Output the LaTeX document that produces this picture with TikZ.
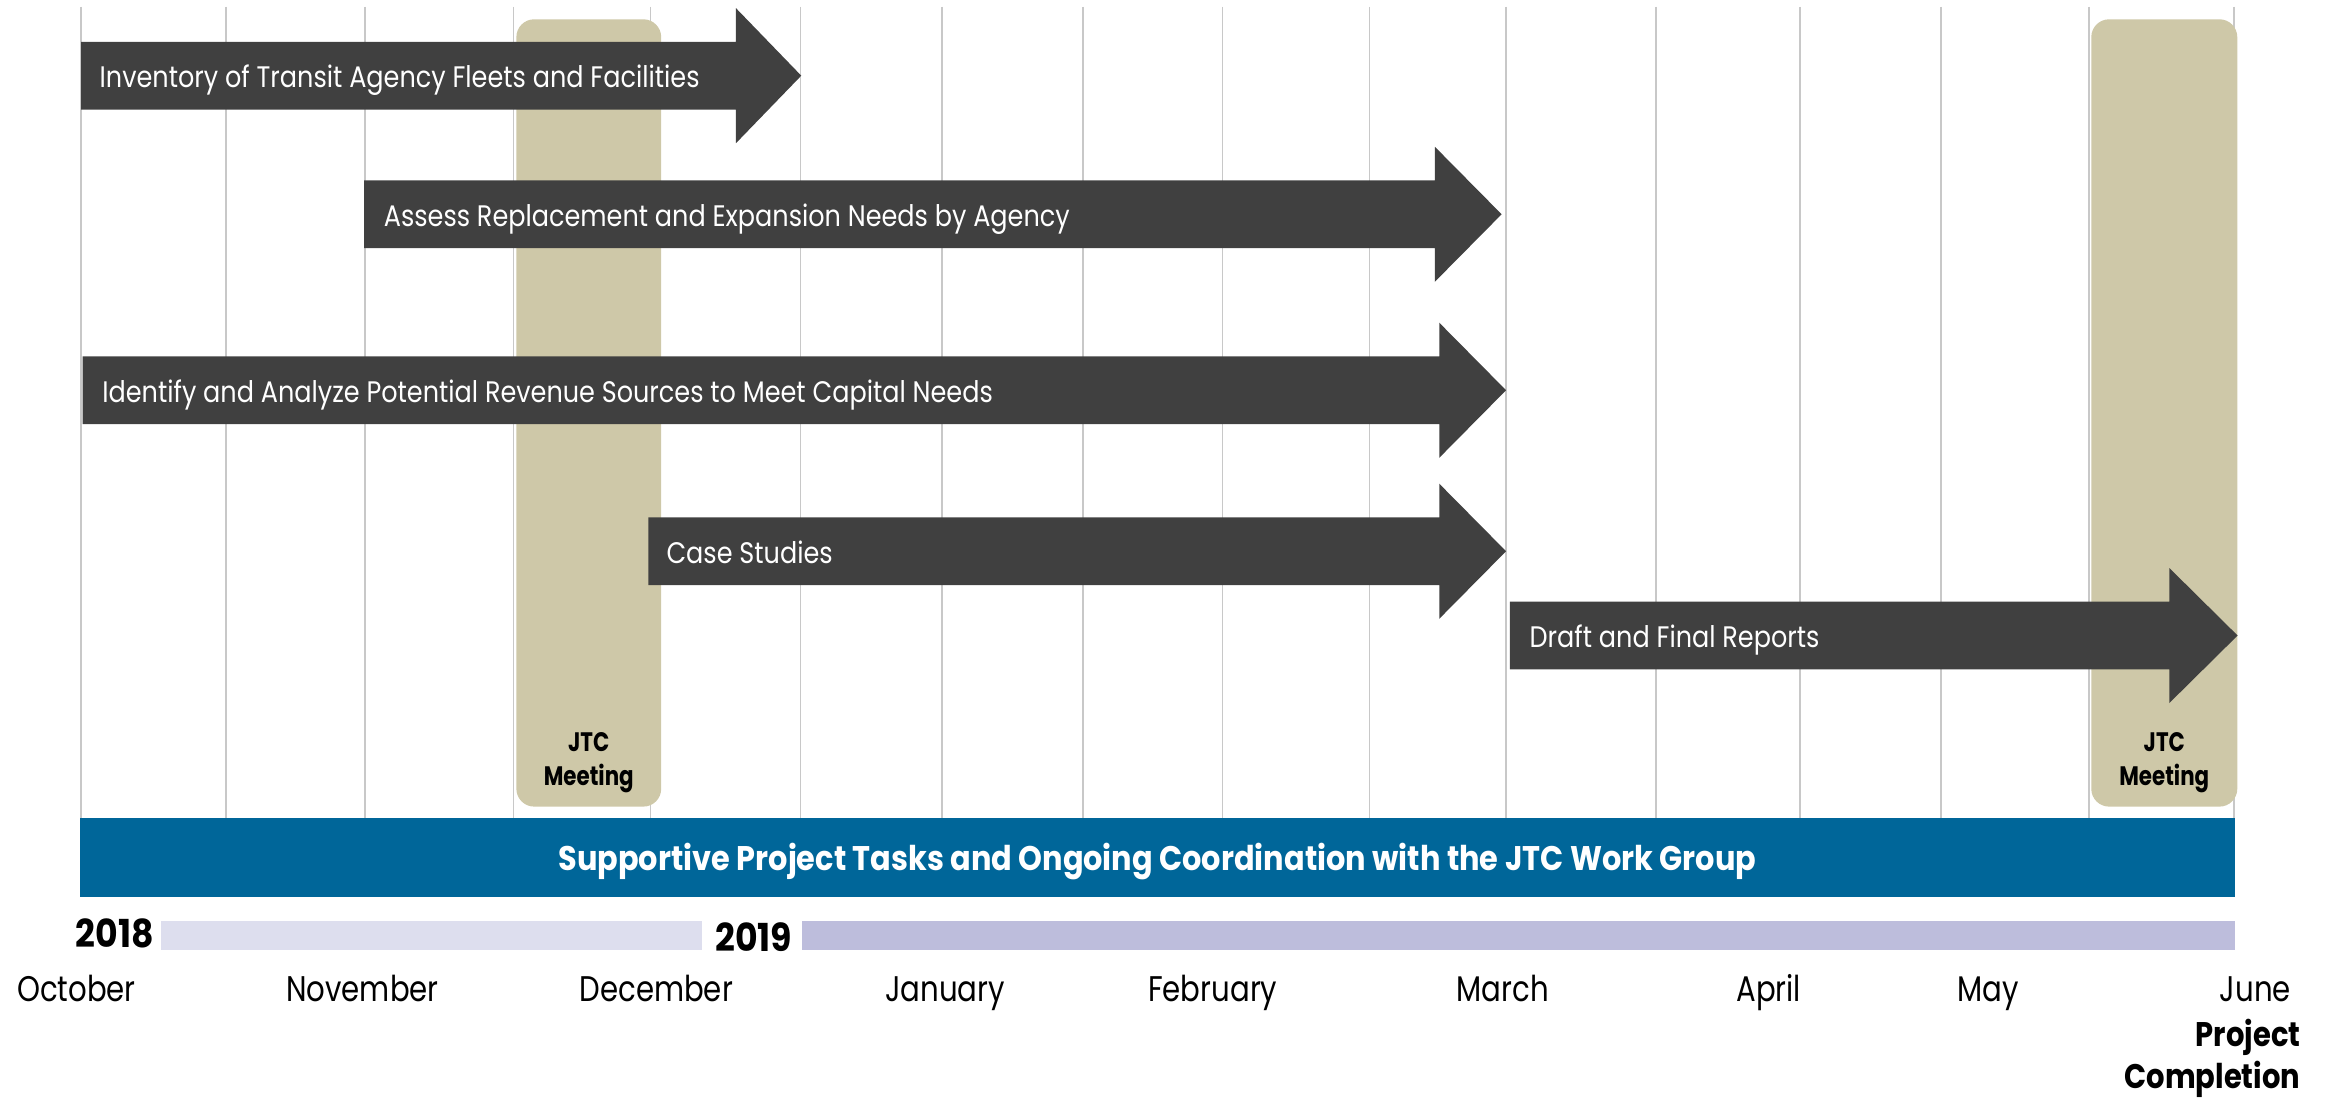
\documentclass[tikz,border=0pt]{standalone}
\usepackage{fontspec}
\newfontfamily\gfont[FakeStretch=0.8]{Poppins}
\newfontfamily\taskfnt[FakeStretch=0.86]{Poppins}
\newfontfamily\barfnt[FakeStretch=0.89]{Poppins}
\newfontfamily\monfnt[FakeStretch=0.82]{Poppins}
\newfontfamily\yrfnt[FakeStretch=0.9]{Poppins}
\newfontfamily\endfnt[FakeStretch=0.85]{Poppins}
\definecolor{grid}{HTML}{C8C8C8}
\definecolor{jtc}{HTML}{CEC8A8}
\definecolor{dark}{HTML}{404040}
\definecolor{coord}{HTML}{006699}
\definecolor{yrA}{HTML}{DDDEEE}
\definecolor{yrB}{HTML}{BDBDDC}
\newcommand\ganttarrow[4]{% left x, head base x, centre y, tip x
  \fill[dark] (#1,#3-22.8) -- (#2,#3-22.8) -- (#2,#3-45.5) -- (#4,#3)
    -- (#2,#3+45.5) -- (#2,#3+22.8) -- (#1,#3+22.8) -- cycle;}
\begin{document}
\begin{tikzpicture}[x=1pt,y=-1pt,
  gridline/.style={draw=grid, line width=1pt},
  jtcbox/.style={fill=jtc, rounded corners=12pt},
  tasktext/.style={text=white, anchor=base west, inner sep=0pt, font=\taskfnt\fontsize{20}{22}\selectfont},
  jtctext/.style={text=black, anchor=base, inner sep=0pt, font=\gfont\bfseries\fontsize{18}{20}\selectfont},
  month/.style={text=black, anchor=base, inner sep=0pt, font=\monfnt\fontsize{24}{26}\selectfont},
  year/.style={text=black, anchor=base, inner sep=0pt, font=\yrfnt\bfseries\fontsize{26}{28}\selectfont},
  bartext/.style={text=white, anchor=base, inner sep=0pt, font=\barfnt\bfseries\fontsize{23}{25}\selectfont},
  endtext/.style={text=black, anchor=base east, inner sep=0pt, font=\endfnt\bfseries\fontsize{23}{25}\selectfont}]
\useasboundingbox (0,0) rectangle (1567.6,740);
% grid lines
\foreach \x in {54.6,152.3,246,346,438.3,539.5,635,730,824,923,1015,1116,1213,1308,1408,1505.5}
  \draw[gridline] (\x,4.5) -- (\x,551);
% JTC meeting columns
\fill[jtcbox] (348,13) rectangle (445.6,543.6);
\fill[jtcbox] (1409.4,13) rectangle (1507.8,543.6);
% task arrows
\ganttarrow{54.6}{496}{51}{540}
\ganttarrow{245.4}{967}{144.4}{1012}
\ganttarrow{55.7}{970}{263}{1015}
\ganttarrow{437}{970}{371.5}{1015}
\ganttarrow{1017.5}{1462}{428.3}{1508}
\node[tasktext] (t1) at (67,59) {Inventory of Transit Agency Fleets and Facilities};
\node[tasktext] (t2) at (258.5,152.4) {Assess Replacement and Expansion Needs by Agency};
\node[tasktext] (t3) at (68.8,271) {Identify and Analyze Potential Revenue Sources to Meet Capital Needs};
\node[tasktext] (t4) at (449,379.5) {Case Studies};
\node[tasktext] (t5) at (1030.7,436.3) {Draft and Final Reports};
% JTC labels
\node[jtctext] (j1a) at (396.8,506.6) {JTC};
\node[jtctext] (j1b) at (396.8,529.5) {Meeting};
\node[jtctext] (j2a) at (1458.6,506.6) {JTC};
\node[jtctext] (j2b) at (1458.6,529.5) {Meeting};
% coordination bar
\fill[coord] (54,551) rectangle (1506,604.5);
\node[bartext] (coordtext) at (780,586.5) {Supportive Project Tasks and Ongoing Coordination with the JTC Work Group};
% year bars
\fill[yrA] (108.5,621) rectangle (473,640);
\fill[yrB] (540.6,621) rectangle (1506,640);
\node[year] (y18) at (77.3,638.5) {2018};
\node[year] (y19) at (508,641.5) {2019};
% months
\node[month] (oct) at (51.5,675) {October};
\node[month] (nov) at (244.3,675) {November};
\node[month] (dec) at (442.3,675) {December};
\node[month] (jan) at (637,675) {January};
\node[month] (feb) at (817.3,675) {February};
\node[month] (mar) at (1012.8,675) {March};
\node[month] (apr) at (1192,675) {April};
\node[month] (may) at (1340,675) {May};
\node[month] (jun) at (1520,675) {June};
\node[endtext] (proj) at (1550.5,705) {Project};
\node[endtext] (compl) at (1550.5,733.5) {Completion};
\end{tikzpicture}
\end{document}
